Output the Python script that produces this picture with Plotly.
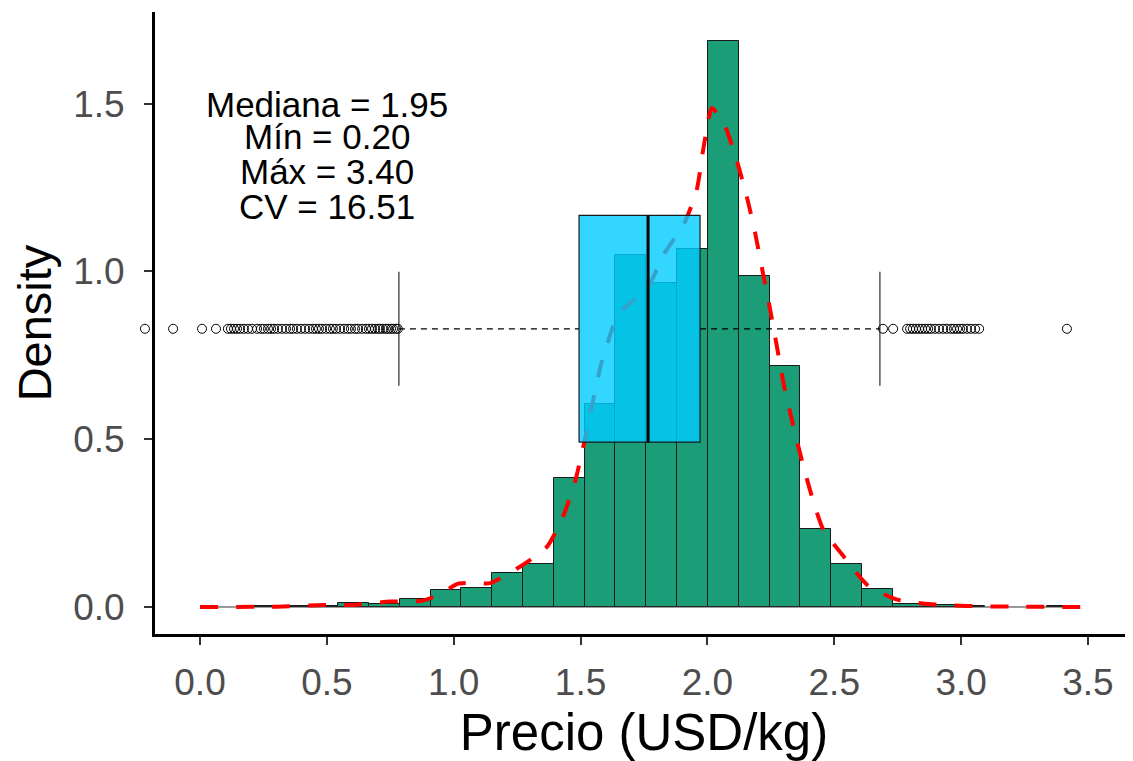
import plotly.graph_objects as go

# ---------------- data ----------------
bin_start = 0.058
bin_width = 0.1215
hist_density = [0.0, 0.002, 0.002, 0.002, 0.011, 0.009, 0.023, 0.051, 0.056, 0.101,
                0.128, 0.384, 0.605, 1.049, 0.965, 1.066, 1.688, 0.987, 0.718, 0.232,
                0.128, 0.053, 0.009, 0.005, 0.003, 0.0, 0.0, 0.002]

dens_x = [0.0, 0.3, 0.485, 0.6, 0.749, 0.879, 0.95, 1.015, 1.08, 1.143, 1.261, 1.368,
          1.431, 1.478, 1.514, 1.58, 1.64, 1.664, 1.766, 1.829, 1.908, 1.958, 1.981,
          2.006, 2.017, 2.064, 2.115, 2.155, 2.188, 2.219, 2.245, 2.274, 2.300, 2.333,
          2.372, 2.412, 2.457, 2.543, 2.634, 2.752, 2.886, 3.026, 3.2, 3.5]
dens_y = [0.0, 0.001, 0.006, 0.006, 0.016, 0.019, 0.04, 0.069, 0.072, 0.071, 0.12, 0.18,
          0.27, 0.373, 0.489, 0.72, 0.86, 0.885, 0.954, 1.052, 1.142, 1.243, 1.352,
          1.46, 1.487, 1.443, 1.332, 1.223, 1.115, 0.995, 0.895, 0.776, 0.667, 0.557,
          0.438, 0.329, 0.230, 0.145, 0.063, 0.021, 0.008, 0.003, 0.001, 0.0]

# boxplot summary (drawn horizontally at y = box_center)
box_q1, box_median, box_q3 = 1.494, 1.766, 1.971
whisk_lo, whisk_hi = 0.784, 2.680
box_center = 0.829
box_half = 0.338
cap_half = 0.17

outliers = [-0.217, -0.106, 0.008, 0.063, 0.110, 0.122, 0.134, 0.146, 0.158, 0.173,
            0.189, 0.205, 0.225, 0.240, 0.252, 0.268, 0.280, 0.292, 0.307, 0.323,
            0.339, 0.355, 0.367, 0.382, 0.398, 0.414, 0.430, 0.445, 0.457, 0.469,
            0.481, 0.497, 0.512, 0.524, 0.536, 0.552, 0.568, 0.583, 0.595, 0.611,
            0.623, 0.639, 0.654, 0.666, 0.678, 0.690, 0.702, 0.709, 0.721, 0.733,
            0.741, 0.753, 0.761, 0.773, 0.780,
            2.692, 2.732, 2.787, 2.799, 2.810, 2.822, 2.834, 2.846, 2.858, 2.870,
            2.881, 2.897, 2.913, 2.929, 2.944, 2.960, 2.972, 2.984, 2.996, 3.007,
            3.023, 3.039, 3.055, 3.071, 3.417]

stats_lines = ["Mediana = 1.95", "Mín = 0.20", "Máx = 3.40", "CV = 16.51"]
stats_x = 0.5
stats_y = [1.496, 1.401, 1.297, 1.192]

x_ticks = [0.0, 0.5, 1.0, 1.5, 2.0, 2.5, 3.0, 3.5]
y_ticks = [0.0, 0.5, 1.0, 1.5]

# ---------------- figure ----------------
FONT = "Liberation Sans, Arial, sans-serif"
X_RANGE = [-0.1774, 3.6775]
X2_RANGE = [-0.3626, 3.6775]     # wider invisible axis so outliers beyond the panel show
Y_RANGE = [-0.0805, 1.773]
X_DOMAIN_LEFT = 47 / 1025

n_bins = len(hist_density)
centers = [bin_start + bin_width * (i + 0.5) for i in range(n_bins)]
bar_x = [c for c, d in zip(centers, hist_density) if d > 0]
bar_y = [d for d in hist_density if d > 0]
edge_lo = bin_start
edge_hi = bin_start + bin_width * n_bins

fig = go.Figure()

fig.add_trace(go.Scatter(x=[edge_lo, edge_hi], y=[0, 0], mode="lines",
                         line=dict(color="#333333", width=1), hoverinfo="skip"))
fig.add_trace(go.Bar(x=bar_x, y=bar_y, width=bin_width,
                     marker=dict(color="#1B9E77", line=dict(color="#1a1a1a", width=1))))

fig.add_trace(go.Scatter(x=dens_x, y=dens_y, mode="lines",
                         line=dict(color="#FF0000", width=4, dash="18px,18px", shape="spline",
                                   smoothing=0.6)))

# whiskers (dashed) and caps
fig.add_trace(go.Scatter(x=[whisk_lo, box_q1, None, box_q3, whisk_hi],
                         y=[box_center] * 2 + [None] + [box_center] * 2,
                         mode="lines", line=dict(color="black", width=1.2, dash="6px,5px")))
fig.add_trace(go.Scatter(x=[whisk_lo, whisk_lo, None, whisk_hi, whisk_hi],
                         y=[box_center - cap_half, box_center + cap_half, None,
                            box_center - cap_half, box_center + cap_half],
                         mode="lines", line=dict(color="black", width=1)))

# box
fig.add_trace(go.Scatter(x=[box_q1, box_q3, box_q3, box_q1, box_q1],
                         y=[box_center - box_half, box_center - box_half,
                            box_center + box_half, box_center + box_half,
                            box_center - box_half],
                         mode="lines", fill="toself", fillcolor="rgba(0,204,255,0.8)",
                         line=dict(color="#1a1a1a", width=1.2)))
fig.add_trace(go.Scatter(x=[box_median, box_median],
                         y=[box_center - box_half, box_center + box_half],
                         mode="lines", line=dict(color="black", width=3)))

# outliers on an invisible, wider overlay subplot
fig.add_trace(go.Scatter(x=outliers, y=[box_center] * len(outliers), mode="markers",
                         marker=dict(symbol="circle-open", size=9, color="black",
                                     line=dict(width=1)),
                         xaxis="x2", yaxis="y2"))

for txt, yy in zip(stats_lines, stats_y):
    fig.add_annotation(x=stats_x, y=yy, text=txt, showarrow=False,
                       xanchor="center", yanchor="middle",
                       font=dict(family=FONT, size=35, color="black"))

fig.update_layout(
    width=1125, height=761,
    margin=dict(l=100, r=0, t=4, b=135),
    plot_bgcolor="rgba(0,0,0,0)", paper_bgcolor="white",
    showlegend=False, bargap=0,
    font=dict(family=FONT),
    xaxis=dict(domain=[X_DOMAIN_LEFT, 1], range=X_RANGE, tickvals=x_ticks,
               ticktext=[f"{v:.1f}" for v in x_ticks],
               showline=True, linecolor="black", linewidth=3,
               ticks="outside", ticklen=8, tickwidth=1.5, tickcolor="#333333",
               tickfont=dict(family=FONT, size=37, color="#4D4D4D"),
               ticklabelstandoff=6,
               showgrid=False, zeroline=False,
               title=dict(text="Precio (USD/kg)", font=dict(family=FONT, size=51, color="black"),
                          standoff=12)),
    yaxis=dict(range=Y_RANGE, tickvals=y_ticks,
               ticktext=[f"{v:.1f}" for v in y_ticks],
               showline=True, linecolor="black", linewidth=3,
               ticks="outside", ticklen=8, tickwidth=1.5, tickcolor="#333333",
               tickfont=dict(family=FONT, size=37, color="#4D4D4D"),
               ticklabelstandoff=12,
               showgrid=False, zeroline=False,
               title=dict(text="Density", font=dict(family=FONT, size=47, color="black"),
                          standoff=8)),
    xaxis2=dict(domain=[0, 1], range=X2_RANGE, visible=False, anchor="y2"),
    yaxis2=dict(domain=[0, 1], range=Y_RANGE, visible=False, anchor="x2"),
)

fig.write_html("out.html")
